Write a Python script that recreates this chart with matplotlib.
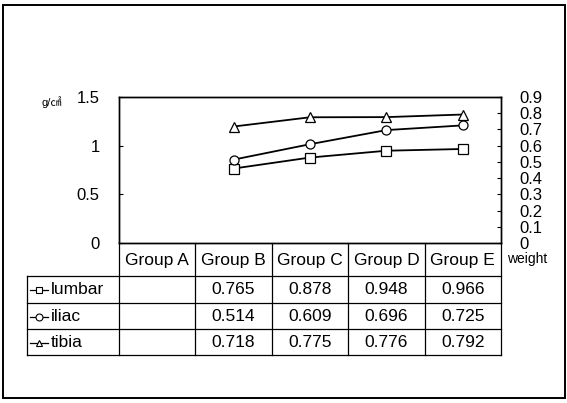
import matplotlib
matplotlib.use("Agg")
import matplotlib.pyplot as plt
from matplotlib.lines import Line2D
from matplotlib.patches import Rectangle

plt.rcParams['font.family'] = ['Liberation Sans', 'Noto Sans CJK JP', 'DejaVu Sans']

groups = ["Group A", "Group B", "Group C", "Group D", "Group E"]
series_names = ["lumbar", "iliac", "tibia"]
lumbar = [None, 0.765, 0.878, 0.948, 0.966]
iliac = [None, 0.514, 0.609, 0.696, 0.725]
tibia = [None, 0.718, 0.775, 0.776, 0.792]
left_ticks = [0, 0.5, 1, 1.5]
left_tick_labels = ["0", "0.5", "1", "1.5"]
right_ticks = [0, 0.1, 0.2, 0.3, 0.4, 0.5, 0.6, 0.7, 0.8, 0.9]
right_tick_labels = ["0", "0.1", "0.2", "0.3", "0.4", "0.5", "0.6", "0.7", "0.8", "0.9"]

W, H = 567, 403
fig = plt.figure(figsize=(W / 100, H / 100), dpi=100)

# plot area in pixel units
L, R, T, B = 119, 501, 97, 243
ax = fig.add_axes([L / W, 1 - B / H, (R - L) / W, (B - T) / H])
ax2 = ax.twinx()

xs = list(range(len(groups)))

def pts(vals):
    return [(x, v) for x, v in zip(xs, vals) if v is not None]

marker_kw = dict(color="black", lw=1.3, markerfacecolor="white",
                 markeredgecolor="black", markeredgewidth=0.9)
p = pts(lumbar)
ax.plot([a for a, _ in p], [b for _, b in p], marker="s", ms=6.5, **marker_kw)
p = pts(iliac)
ax2.plot([a for a, _ in p], [b for _, b in p], marker="o", ms=6.5, **marker_kw)
p = pts(tibia)
ax2.plot([a for a, _ in p], [b for _, b in p], marker="^", ms=7, **marker_kw)

ax.set_xlim(-0.5, len(groups) - 0.5)
ax.set_ylim(0, 1.5)
ax2.set_ylim(0, 0.9)
ax.set_xticks([])
ax.set_yticks(left_ticks)
ax.set_yticklabels(left_tick_labels, fontsize=12)
ax2.set_yticks(right_ticks)
ax2.set_yticklabels(right_tick_labels, fontsize=12)
ax.tick_params(axis="y", direction="in", length=3, width=0.8, pad=14)
ax2.tick_params(axis="y", direction="in", length=3, width=0.8, pad=13)
for a in (ax, ax2):
    for s in a.spines.values():
        s.set_linewidth(1.0)
    a.patch.set_visible(False)

# overlay in pixel coordinates for the data table and frame
ov = fig.add_axes([0, 0, 1, 1], zorder=-1)
ov.set_xlim(0, W)
ov.set_ylim(H, 0)
ov.axis("off")

# outer frame
ov.add_patch(Rectangle((3, 5), 562, 393, fill=False, lw=1.4, ec="black"))

col_w = (R - L) / len(groups)
col_edges = [L + i * col_w for i in range(len(groups) + 1)]
row_edges = [B, 276, 303, 329, 355]
label_left = 27

lk = dict(color="black", lw=0.9)
ov.plot([L, L], [row_edges[0], row_edges[-1]], **lk)
for xe in col_edges[1:]:
    ov.plot([xe, xe], [row_edges[0], row_edges[-1]], **lk)
for ye in row_edges[1:]:
    ov.plot([label_left, R], [ye, ye], **lk)
ov.plot([label_left, label_left], [row_edges[1], row_edges[-1]], **lk)

for i, g in enumerate(groups):
    cx = (col_edges[i] + col_edges[i + 1]) / 2
    ov.text(cx, (row_edges[0] + row_edges[1]) / 2 + 0.5, g, ha="center", va="center",
            fontsize=12.5)

table_rows = [lumbar, iliac, tibia]
markers = ["s", "o", "^"]
for r, (name, vals, mk) in enumerate(zip(series_names, table_rows, markers)):
    cy = (row_edges[r + 1] + row_edges[r + 2]) / 2 + 0.5
    ov.add_line(Line2D([30, 48], [cy, cy], color="black", lw=0.9))
    ov.plot([39], [cy], marker=mk, ms=5, color="black", markerfacecolor="white",
            markeredgewidth=0.8)
    ov.text(51, cy, name, ha="left", va="center", fontsize=12.5)
    for i, v in enumerate(vals):
        if v is None:
            continue
        cx = (col_edges[i] + col_edges[i + 1]) / 2
        ov.text(cx, cy, f"{v:.3f}", ha="center", va="center", fontsize=12.5)

# axis unit labels
ov.text(42, 102, "g/㎠", ha="left", va="center", fontsize=8)
ov.text(507, 259, "weight", ha="left", va="center", fontsize=10)

fig.savefig("out.png", dpi=100)
